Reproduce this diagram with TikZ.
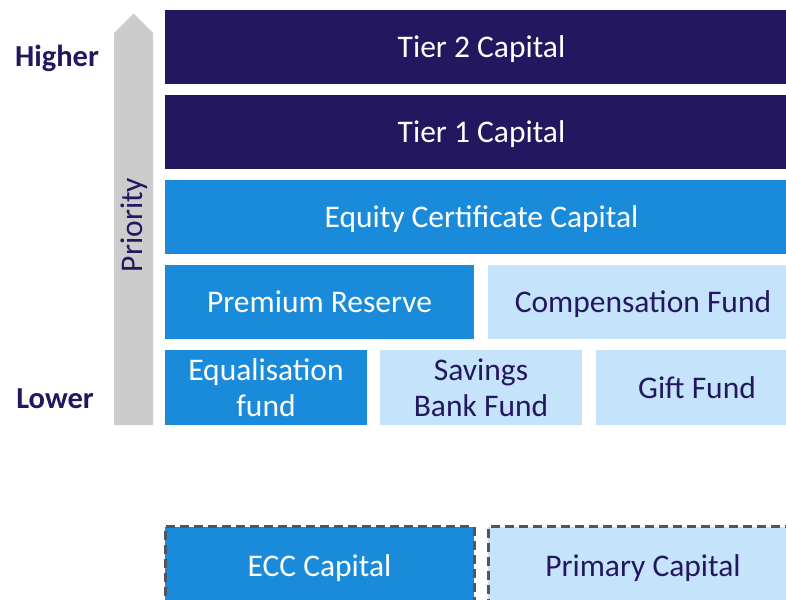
\documentclass[tikz,border=0pt]{standalone}
\usepackage{fontspec}
\setmainfont{Carlito}
\usepackage{tikz}
\usetikzlibrary{positioning}
\definecolor{capNavy}{HTML}{231860}
\definecolor{capBlue}{HTML}{198BDA}
\definecolor{capLight}{HTML}{C5E4FB}
\definecolor{capGrey}{HTML}{CCCCCC}
\definecolor{capDash}{HTML}{555555}
\tikzset{
  capbox/.style={inner sep=0pt,outer sep=0pt,minimum height=74pt,align=center,
    text depth=0pt,font=\fontsize{31.5}{36}\selectfont},
  navybox/.style={capbox,fill=capNavy,text=white},
  bluebox/.style={capbox,fill=capBlue,text=white},
  lightbox/.style={capbox,fill=capLight,text=capNavy},
  dashbox/.style={draw=capDash,line width=3pt,dash pattern=on 9pt off 5pt},
  sidelabel/.style={font=\fontsize{30.5}{34}\selectfont\bfseries,text=capNavy,text depth=0pt}
}
\begin{document}
\begin{tikzpicture}[x=1pt,y=1pt]
    \useasboundingbox (0,0) rectangle (786,-599);
    % priority arrow
    \fill[capGrey] (114,-425) -- (114,-33) -- (133.5,-13.5) -- (153,-33) -- (153,-425) -- cycle;
    \node[rotate=90,font=\fontsize{31.5}{36}\selectfont,text=capNavy] (priority) at (134,-225) {Priority};
    \node[sidelabel] (higher) at (57,-56) {Higher};
    \node[sidelabel] (lower) at (55,-399) {Lower};
    % capital stack (right column runs past the page edge)
    \node[navybox,minimum width=633pt,anchor=north west] (tier2) at (165,-10) {Tier 2 Capital};
    \node[navybox,minimum width=633pt,below=11pt of tier2] (tier1) {Tier 1 Capital};
    \node[bluebox,minimum width=633pt,below=11pt of tier1] (equity) {Equity Certificate Capital};
    \node[bluebox,minimum width=309pt,below=11pt of equity.south west,anchor=north west] (premium) {Premium Reserve};
    \node[lightbox,minimum width=310pt,below=11pt of equity.south east,anchor=north east] (compensation) {Compensation Fund};
    \node[bluebox,minimum width=202pt,minimum height=75pt,below=11pt of premium.south west,anchor=north west] (equalisation) {Equalisation\\fund};
    \node[lightbox,minimum width=202pt,minimum height=75pt,right=13pt of equalisation] (savings) {Savings\\Bank Fund};
    \node[lightbox,minimum width=202pt,minimum height=75pt,right=14pt of savings] (gift) {Gift Fund};
    % total capital
    \node[bluebox,dashbox,minimum width=309pt,minimum height=78pt,anchor=north west] (ecc) at (165,-526.5) {ECC Capital};
    \node[lightbox,dashbox,minimum width=310pt,minimum height=78pt,anchor=north west] (primary) at (488,-526.5) {Primary Capital};
\end{tikzpicture}
\end{document}
